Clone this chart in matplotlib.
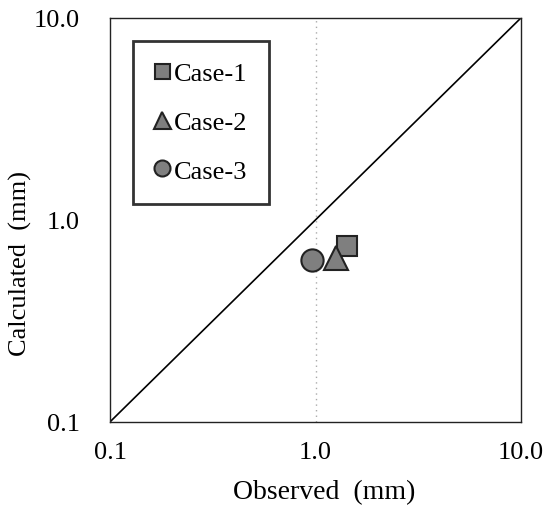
import matplotlib
matplotlib.use("Agg")
import matplotlib.pyplot as plt
from matplotlib.ticker import FixedLocator, FixedFormatter, NullLocator

# Data
cases = ["Case-1", "Case-2", "Case-3"]
observed = [1.43, 1.26, 0.96]
calculated = [0.74, 0.65, 0.63]
markers = ["s", "^", "o"]
marker_sizes = [15, 17, 16]
tick_vals = [0.1, 1.0, 10.0]
tick_labels = ["0.1", "1.0", "10.0"]

plt.rcParams['font.family'] = ['Liberation Serif', 'DejaVu Serif']

fig = plt.figure(figsize=(5.45, 5.10), dpi=100)
ax = fig.add_axes([0.202, 0.171, 0.754, 0.792])
ax.set_xscale('log')
ax.set_yscale('log')
ax.set_xlim(0.1, 10)
ax.set_ylim(0.1, 10)

ax.plot([0.1, 10], [0.1, 10], color='black', lw=1.2, zorder=2)
ax.axvline(1.0, color='#aaaaaa', lw=1.0, ls=(0, (1, 3)), zorder=1)

for c, xo, yc, m, ms in zip(cases, observed, calculated, markers, marker_sizes):
    ax.plot([xo], [yc], linestyle='none', marker=m, markersize=ms,
            markerfacecolor='#7f7f7f', markeredgecolor='#222222',
            markeredgewidth=1.5, label=c, zorder=3)

for axis in (ax.xaxis, ax.yaxis):
    axis.set_major_locator(FixedLocator(tick_vals))
    axis.set_major_formatter(FixedFormatter(tick_labels))
    axis.set_minor_locator(NullLocator())
ax.tick_params(axis='both', which='major', direction='in', length=0, labelsize=19)
ax.tick_params(axis='x', pad=14)
ax.tick_params(axis='y', pad=22)

for s in ax.spines.values():
    s.set_linewidth(1.0)
    s.set_color('#222222')

ax.set_xlabel("Observed  (mm)", fontsize=20)
ax.set_ylabel("Calculated  (mm)", fontsize=19)
ax.xaxis.set_label_coords(0.52, -0.143)
ax.yaxis.set_label_coords(-0.19, 0.395)

leg = ax.legend(loc='upper left', bbox_to_anchor=(0.056, 0.943), borderaxespad=0,
                fontsize=19, frameon=True, fancybox=False, labelspacing=0.95,
                borderpad=0.8, handlelength=0.6, handletextpad=0.15, markerscale=0.72)
leg.get_frame().set_edgecolor('black')
leg.get_frame().set_linewidth(2.0)

fig.savefig("out.png", dpi=100)
